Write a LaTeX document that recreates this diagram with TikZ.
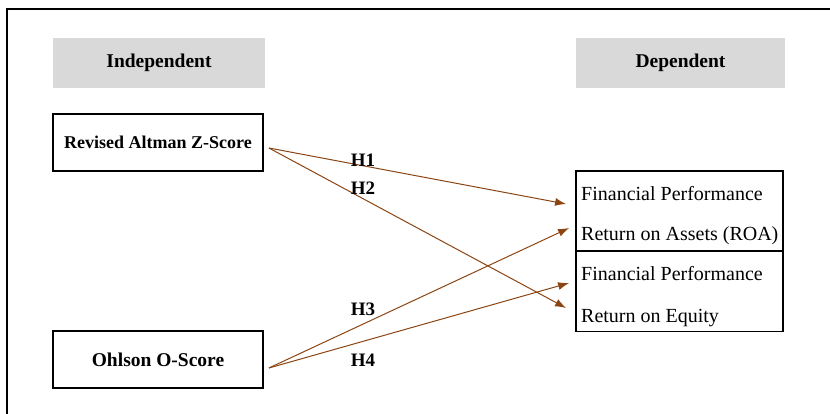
\documentclass[tikz,border=0pt]{standalone}
\usepackage{fontspec}
\setmainfont{Liberation Serif}
\usetikzlibrary{arrows.meta,calc}
\definecolor{hdrgray}{HTML}{D9D9D9}
\definecolor{arrbrown}{HTML}{8B4513}
\tikzset{
  hdr/.style={fill=hdrgray, draw=none, minimum height=50pt, inner sep=0pt, font=\fontsize{19.5}{21}\selectfont\bfseries},
  varbox/.style={draw=black, line width=1.8pt, minimum width=210pt, minimum height=57pt, inner sep=0pt, font=\fontsize{18}{20}\selectfont\bfseries},
  depbox/.style={draw=black, line width=1.8pt, minimum width=207pt, minimum height=80pt, inner sep=0pt},
  deptext/.style={anchor=base west, inner sep=0pt, font=\fontsize{20}{22}\selectfont},
  hyp/.style={inner sep=0pt, font=\fontsize{19}{21}\selectfont\bfseries},
  link/.style={draw=arrbrown, line width=1pt, -{Latex[length=11pt,width=8pt]}}
}
\begin{document}
\begin{tikzpicture}[x=1pt,y=-1pt]
\useasboundingbox (0,0) rectangle (830,414);
% outer frame (only left and top visible)
\draw[line width=2pt] (7,414) -- (7,9) -- (830,9);
% headers
\node[hdr, minimum width=212pt] (indep) at (159,63) {Independent};
\node[hdr, minimum width=209pt] (dep) at (680.5,63) {Dependent};
% independent variables
\node[varbox] (altman) at (158,142.5) {Revised Altman Z-Score};
\node[varbox] (ohlson) at (158,359.5) {\fontsize{19.5}{21}\selectfont Ohlson O-Score};
% dependent variables
\node[depbox] (roa) at (679.5,211) {};
\node[depbox] (roe) at (679.5,291.5) {};
\node[deptext] (roa1) at (581,200.5) {Financial Performance};
\node[deptext] (roa2) at (581,240.5) {Return on Assets (ROA)};
\node[deptext] (roe1) at (581,280.5) {Financial Performance};
\node[deptext] (roe2) at (581,322) {Return on Equity};
% arrow endpoints
\coordinate (a0) at ($(altman.east)+(5,5.5)$);
\coordinate (o0) at ($(ohlson.east)+(5,8.5)$);
\coordinate (h1e) at ($(roa.west)+(-9,-7)$);
\coordinate (h3e) at ($(roa.west)+(-6,17)$);
\coordinate (h4e) at ($(roe.west)+(-6,-8.5)$);
\coordinate (h2e) at ($(roe.west)+(-9,16.5)$);
\draw[link] (a0) -- (h1e);
\draw[link] (a0) -- (h2e);
\draw[link] (o0) -- (h3e);
\draw[link] (o0) -- (h4e);
% hypothesis labels
\node[hyp] (H1) at (363,160) {H1};
\node[hyp] (H2) at (363,188) {H2};
\node[hyp] (H3) at (363,309) {H3};
\node[hyp] (H4) at (363,360.5) {H4};
\end{tikzpicture}
\end{document}
